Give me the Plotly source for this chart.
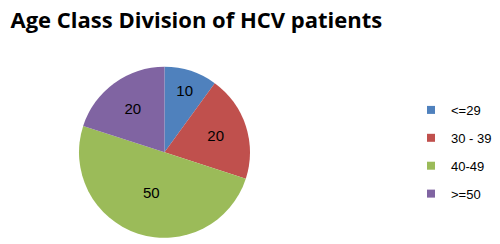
import plotly.graph_objects as go

categories = ["<=29", "30 - 39", "40-49", ">=50"]
values = [10, 20, 50, 20]
colors = ["#4F81BD", "#C0504D", "#9BBB59", "#8064A2"]

fig = go.Figure()
fig.add_trace(go.Pie(
    labels=categories,
    values=values,
    sort=False,
    direction="clockwise",
    rotation=0,
    marker=dict(colors=colors, line=dict(width=0)),
    textinfo="value",
    textposition="inside",
    insidetextorientation="horizontal",
    textfont=dict(family="Liberation Sans", size=15, color="black"),
    domain=dict(x=[0.142, 0.484], y=[0.058, 0.759]),
    hoverinfo="label+value",
    showlegend=False,
))

# legend entries (one per category, square swatches)
for cat, col in zip(categories, colors):
    fig.add_trace(go.Scatter(
        x=[None], y=[None], mode="markers", name=cat,
        marker=dict(symbol="square", size=8, color=col),
        legendgroup=cat, showlegend=True,
    ))

fig.update_layout(
    width=500, height=244,
    margin=dict(l=0, r=0, t=0, b=0, autoexpand=False),
    paper_bgcolor="white",
    plot_bgcolor="white",
    xaxis=dict(visible=False),
    yaxis=dict(visible=False),
    title=dict(text="<b>Age Class Division of HCV patients</b>",
               x=0.005, xanchor="left", y=0.95, yanchor="middle",
               font=dict(family="Open Sans", size=22, color="black")),
    legend=dict(x=0.806, y=0.41, xanchor="left", yanchor="middle",
                tracegroupgap=8, itemwidth=30,
                font=dict(family="Liberation Sans", size=13, color="black"),
                bgcolor="rgba(0,0,0,0)"),
    showlegend=True,
)

fig.write_html("out.html")
